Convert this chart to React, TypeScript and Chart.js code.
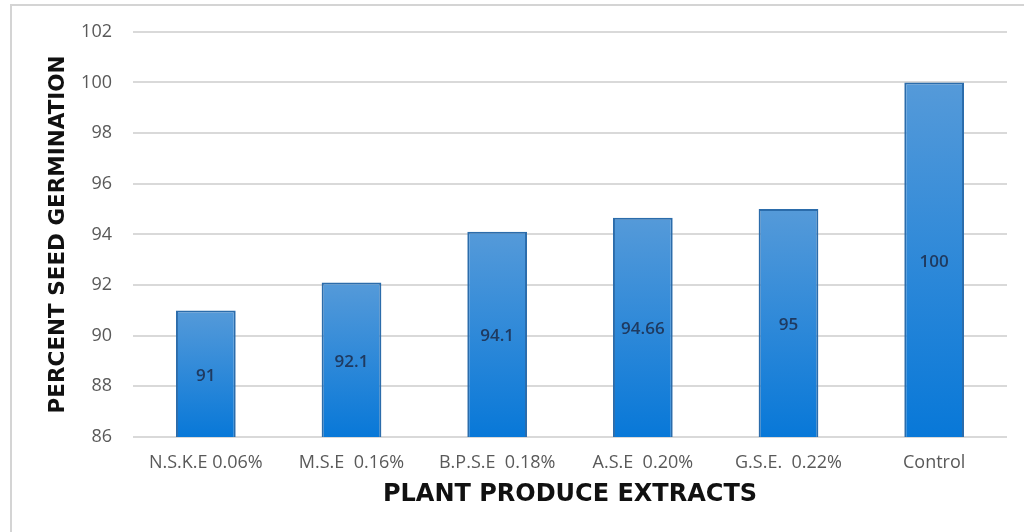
import React, { useEffect, useRef } from "react";
import { Chart, registerables } from "chart.js";

Chart.register(...registerables);

const categories = ["N.S.K.E 0.06%", "M.S.E  0.16%", "B.P.S.E  0.18%", "A.S.E  0.20%", "G.S.E.  0.22%", "Control"];
const germination = [91, 92.1, 94.1, 94.66, 95, 100];
const valueLabels = ["91", "92.1", "94.1", "94.66", "95", "100"];
const yMin = 86;
const yMax = 102;
const yStep = 2;
const yTitle = "PERCENT SEED GERMINATION";
const xTitle = "PLANT PRODUCE EXTRACTS";

export default function App() {
  const ref = useRef<HTMLCanvasElement | null>(null);

  useEffect(() => {
    document.body.style.margin = "0";
    const canvas = ref.current;
    if (!canvas) return;

    const framePlugin = {
      id: "frame",
      beforeDraw(chart: any) {
        const ctx = chart.ctx;
        ctx.save();
        ctx.fillStyle = "#ffffff";
        ctx.fillRect(0, 0, chart.width, chart.height);
        ctx.strokeStyle = "#d4d4d4";
        ctx.lineWidth = 2;
        ctx.beginPath();
        ctx.moveTo(11, chart.height + 2);
        ctx.lineTo(11, 5);
        ctx.lineTo(chart.width + 2, 5);
        ctx.stroke();
        ctx.restore();
      },
    };

    const labelPlugin = {
      id: "barValueLabels",
      afterDraw(chart: any) {
        const ctx = chart.ctx;
        const xs = chart.scales.x;
        const ys = chart.scales.y;
        ctx.save();
        ctx.font = "600 17px 'Open Sans', sans-serif";
        ctx.fillStyle = "#1f3a60";
        ctx.textAlign = "center";
        ctx.textBaseline = "middle";
        germination.forEach((v, i) => {
          const cx = xs.getPixelForValue(i);
          const top = ys.getPixelForValue(v);
          const base = ys.getPixelForValue(yMin);
          ctx.fillText(valueLabels[i], cx, (top + base) / 2 + 2);
        });
        ctx.restore();
      },
    };

    const chart = new Chart(canvas, {
      type: "bar",
      data: {
        labels: categories,
        datasets: [
          {
            data: germination,
            backgroundColor: (c: any) => {
              const ch = c.chart;
              const ys = ch.scales && ch.scales.y;
              if (!ch.chartArea || !ys || c.dataIndex === undefined) return "#2f86d8";
              const top = ys.getPixelForValue(germination[c.dataIndex]);
              const g = ch.ctx.createLinearGradient(0, top, 0, ys.bottom);
              g.addColorStop(0, "#559ad9");
              g.addColorStop(1, "#0878d8");
              return g;
            },
            borderColor: "#2b6cab",
            borderWidth: 2,
            barPercentage: 0.41,
            categoryPercentage: 1,
          },
        ],
      },
      options: {
        responsive: false,
        animation: false,
        devicePixelRatio: 1,
        layout: { padding: { left: 0, right: 17, top: 28, bottom: 0 } },
        plugins: {
          legend: { display: false },
          tooltip: { enabled: false },
        },
        scales: {
          x: {
            grid: { display: false, drawTicks: false },
            border: { display: false },
            ticks: {
              padding: 15,
              color: "#595959",
              font: { family: "'Open Sans'", size: 18 },
              maxRotation: 0,
              autoSkip: false,
            },
            title: {
              display: true,
              text: xTitle,
              color: "#111111",
              font: { family: "'DejaVu Sans'", size: 24, weight: "bold" },
              padding: { top: 0, bottom: 23 },
            },
            afterFit: (s: any) => {
              s.height = 95;
            },
          },
          y: {
            min: yMin,
            max: yMax,
            grid: { color: "#d9d9d9", lineWidth: 2, drawTicks: false },
            border: { display: false },
            ticks: {
              stepSize: yStep,
              padding: 21,
              color: "#595959",
              font: { family: "'Open Sans'", size: 18 },
            },
            title: {
              display: true,
              text: yTitle,
              color: "#111111",
              font: { family: "'DejaVu Sans'", size: 21.5, weight: "bold" },
              padding: { top: 46, bottom: 0 },
            },
            afterFit: (s: any) => {
              s.width = 133;
            },
          },
        },
      },
      plugins: [framePlugin, labelPlugin],
    });

    return () => chart.destroy();
  }, []);

  return <canvas ref={ref} width={1024} height={532} style={{ display: "block" }} />;
}
